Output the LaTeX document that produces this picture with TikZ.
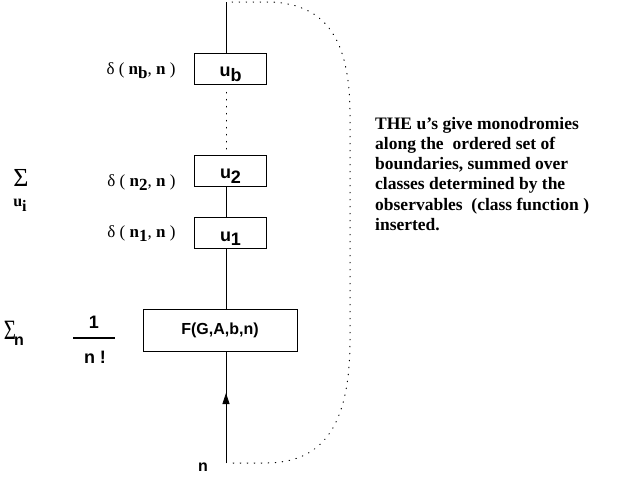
\documentclass[tikz,border=0pt]{standalone}
\usepackage{fontspec}
\setmainfont{Liberation Serif}
\setsansfont{Liberation Sans}
\usetikzlibrary{arrows.meta}
\newcommand{\lowsub}[1]{\raisebox{-4.5pt}[0pt][0pt]{#1}}
\begin{document}
\begin{tikzpicture}
[
    x=1pt, y=-1pt,
    ubox/.style={draw, line width=0.8pt, minimum width=72pt, minimum height=31pt, inner sep=0pt,
        text height=16pt, text depth=0pt,
        font=\sffamily\bfseries\fontsize{18}{18}\selectfont},
    fbox/.style={draw, line width=0.8pt, minimum width=154pt, minimum height=42pt, inner sep=0pt,
        font=\sffamily\bfseries\fontsize{16}{16}\selectfont},
    dlabel/.style={font=\fontsize{17}{17}\selectfont},
    dotline/.style={line width=1pt, dash pattern=on 0.6pt off 6.4pt, line cap=round},
    wire/.style={line width=0.8pt}
]
    \useasboundingbox (0,0) rectangle (623,485);
    \coordinate (top) at (226,2);
    \coordinate (bot) at (226,463);
    \coordinate (tip) at (226,393);
    \node [ubox] (ub) at (230.5,68.5) {u\lowsub{b}};
    \node [ubox] (u2) at (230.5,170.5) {u\lowsub{2}};
    \node [ubox] (u1) at (230.5,233) {u\lowsub{1}};
    \node [fbox] (F) at (220,330) {F(G,A,b,n)};
    \draw [wire] (top) -- (top |- ub.north);
    \draw [dotline] (top |- ub.south) ++(0,8) -- (top |- u2.north);
    \draw [wire] (top |- u2.south) -- (top |- u1.north);
    \draw [wire] (top |- u1.south) -- (top |- F.north);
    \draw [wire] (bot) -- (top |- F.south);
    \draw [wire, -{Triangle[length=11pt, width=7pt]}] (bot) -- (tip);
    \draw [dotline] (top) ++(6,0) -- (270,2) .. controls (330,4) and (350,45) .. (350,115)
        -- (350,340) .. controls (350,430) and (320,463) .. (265,463) -- (232,463);
    \node [font=\sffamily\bfseries\fontsize{16}{16}\selectfont] (nlab) at (203,467) {n};
    \node [dlabel, anchor=east] (db) at (179,70) {δ ( \textbf{n}\lowsub{\textbf{b}}, \textbf{n} )};
    \node [dlabel, anchor=east] (d2) at (179,182) {δ ( \textbf{n}\lowsub{\textbf{2}}, \textbf{n} )};
    \node [dlabel, anchor=east] (d1) at (179,233) {δ ( \textbf{n}\lowsub{\textbf{1}}, \textbf{n} )};
    \node [font=\fontsize{26}{26}\selectfont] (sumu) at (21,178) {Σ};
    \node [font=\fontsize{16}{16}\selectfont] (ui) at (20,203) {\textbf{u}\lowsub{\textbf{i}}};
    \node [font=\fontsize{28}{28}\selectfont, inner sep=0pt, xscale=0.75] (sumn) at (10,330) {Σ};
    \node [font=\sffamily\bfseries\fontsize{16}{16}\selectfont, inner sep=0pt] (sn) at (19,341) {n};
    \node [font=\sffamily\bfseries\fontsize{18}{18}\selectfont] (one) at (94,322) {1};
    \node [font=\sffamily\bfseries\fontsize{18}{18}\selectfont] (nfac) at (95,357) {n !};
    \draw [line width=1.6pt] (73,338) -- (115,338);
    \node [anchor=north west, align=left, inner sep=0pt,
        font=\bfseries\fontsize{17.5}{20.2}\selectfont] (note) at (375,117)
        {THE u’s give monodromies\\along the\ \ ordered set of\\boundaries, summed over\\classes determined by the\\observables\ \ (class function )\\inserted.};
\end{tikzpicture}
\end{document}
